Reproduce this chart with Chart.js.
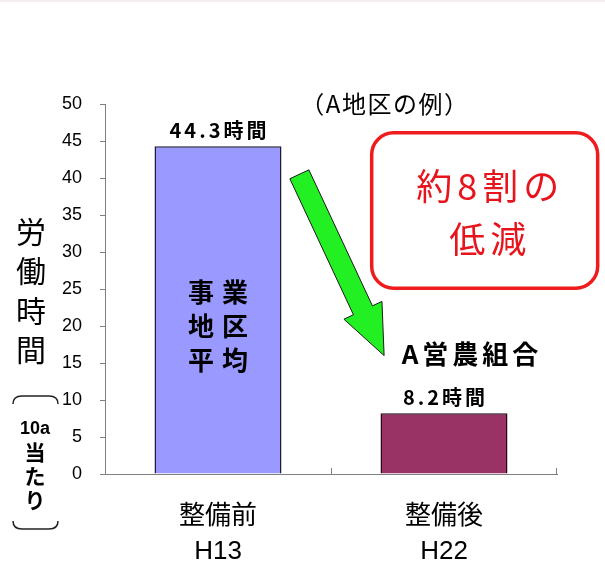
<!DOCTYPE html>
<html lang="ja">
<head>
<meta charset="utf-8">
<title>労働時間（10a当たり）</title>
<script src="https://cdn.jsdelivr.net/npm/chart.js@4.4.0/dist/chart.umd.min.js"></script>
<style>
  html, body { margin: 0; padding: 0; background: #ffffff; }
  #wrap { width: 605px; height: 565px; position: relative; }
</style>
</head>
<body>
<div id="wrap"><canvas id="chart" width="605" height="565"></canvas></div>
<script>
// ---- data ----
const categories = [['整備前', 'H13'], ['整備後', 'H22']];
const hours = [44.3, 8.2];
const barColors = ['#9999FF', '#993366'];
const barBorders = ['#1c1c3a', '#2a0a18'];
const yTicks = [0, 5, 10, 15, 20, 25, 30, 35, 40, 45, 50];
const unitSuffix = '時間';

// ---- annotation texts ----
const subtitle = '（A地区の例）';
const barInnerLines = [['事', '業'], ['地', '区'], ['平', '均']];
const groupLabel = 'A営農組合';
const calloutLines = ['約8割の', '低減'];
const axisTitleChars = ['労', '働', '時', '間'];
const axisUnitLines = ['10a', '当', 'た', 'り'];

const JP = "'Noto Sans CJK JP', sans-serif";
const LATIN_JP = "'Liberation Sans', Arial, 'Noto Sans CJK JP', sans-serif";

// centred text that keeps letter spacing symmetric
function spacedText(ctx, text, x, y, spacing) {
  ctx.letterSpacing = spacing + 'px';
  ctx.fillText(text, x + spacing / 2, y);
  ctx.letterSpacing = '0px';
}

const annotations = {
  id: 'annotations',
  afterDraw(chart) {
    const ctx = chart.ctx;
    const xs = chart.scales.x, ys = chart.scales.y;
    const area = chart.chartArea;
    const bars = chart.getDatasetMeta(0).data;
    ctx.save();

    // faint rule along the top edge
    ctx.fillStyle = '#f4eef0';
    ctx.fillRect(0, 0, chart.width, 2);

    // category boundary ticks on the x axis (pointing up)
    ctx.strokeStyle = '#808080';
    ctx.lineWidth = 1;
    const mid = (xs.getPixelForValue(0) + xs.getPixelForValue(1)) / 2;
    [area.left + 0.5, Math.round(mid) + 0.5, area.right - 0.5].forEach(px => {
      ctx.beginPath();
      ctx.moveTo(px, area.bottom);
      ctx.lineTo(px, area.bottom - 6);
      ctx.stroke();
    });

    ctx.textAlign = 'center';
    ctx.textBaseline = 'middle';
    ctx.fillStyle = '#000';

    // value labels above bars
    ctx.font = 'bold 20px ' + JP;
    bars.forEach((bar, i) => {
      spacedText(ctx, hours[i] + unitSuffix, bar.x, bar.y - 16, 3);
    });

    // text inside the first bar
    ctx.font = 'bold 26px ' + JP;
    const b0 = bars[0];
    barInnerLines.forEach((pair, r) => {
      const cy = ys.getPixelForValue(20) + (r - 1) * 34;
      ctx.fillText(pair[0], b0.x - 17, cy);
      ctx.fillText(pair[1], b0.x + 17, cy);
    });

    // group label above the second bar
    ctx.font = 'bold 26px ' + JP;
    spacedText(ctx, groupLabel, bars[1].x + 26, ys.getPixelForValue(16.2), 4);

    // subtitle
    ctx.font = '24px ' + JP;
    spacedText(ctx, subtitle, xs.getPixelForValue(0.735), ys.getPixelForValue(50), 1.5);

    // y axis title (vertical)
    ctx.font = '30px ' + JP;
    axisTitleChars.forEach((ch, i) => {
      ctx.fillText(ch, 31, ys.getPixelForValue(32.8) + i * 39.5);
    });

    // unit note with vertical brackets
    const ux = 35;
    ctx.strokeStyle = '#222';
    ctx.lineWidth = 1.5;
    const topY = ys.getPixelForValue(10) - 4;
    ctx.beginPath();
    ctx.moveTo(13, topY + 8);
    ctx.quadraticCurveTo(13, topY, 22, topY);
    ctx.lineTo(49, topY);
    ctx.quadraticCurveTo(58, topY, 58, topY + 8);
    ctx.stroke();
    const botY = topY + 133;
    ctx.beginPath();
    ctx.moveTo(13, botY - 8);
    ctx.quadraticCurveTo(13, botY, 22, botY);
    ctx.lineTo(49, botY);
    ctx.quadraticCurveTo(58, botY, 58, botY - 8);
    ctx.stroke();
    ctx.font = 'bold 18px ' + LATIN_JP;
    ctx.fillText(axisUnitLines[0], ux, topY + 33);
    ctx.font = 'bold 21px ' + JP;
    [1, 2, 3].forEach((k, i) => {
      ctx.fillText(axisUnitLines[k], ux, topY + 56 + i * 24);
    });

    // green arrow from the first bar toward the second
    const sx = xs.getPixelForValue(0.36), sy = ys.getPixelForValue(40.5);
    const tx = xs.getPixelForValue(0.735), ty = ys.getPixelForValue(16.0);
    const len = Math.hypot(tx - sx, ty - sy);
    const ux1 = (tx - sx) / len, uy1 = (ty - sy) / len;
    const nx = -uy1, ny = ux1;
    const sh = 10.5, hh = 21, hl = 50;
    const bx = tx - ux1 * hl, by = ty - uy1 * hl;
    ctx.beginPath();
    ctx.moveTo(sx + nx * sh, sy + ny * sh);
    ctx.lineTo(bx + nx * sh, by + ny * sh);
    ctx.lineTo(bx + nx * hh, by + ny * hh);
    ctx.lineTo(tx, ty);
    ctx.lineTo(bx - nx * hh, by - ny * hh);
    ctx.lineTo(bx - nx * sh, by - ny * sh);
    ctx.lineTo(sx - nx * sh, sy - ny * sh);
    ctx.closePath();
    ctx.fillStyle = '#22f022';
    ctx.fill();
    ctx.strokeStyle = '#1a1a1a';
    ctx.lineWidth = 1;
    ctx.stroke();

    // red callout box
    const rl = xs.getPixelForValue(0.68), rr = xs.getPixelForValue(1.68);
    const rt = ys.getPixelForValue(46.1), rb = ys.getPixelForValue(25.1);
    ctx.beginPath();
    ctx.roundRect(rl, rt, rr - rl, rb - rt, 22);
    ctx.fillStyle = '#ffffff';
    ctx.fill();
    ctx.strokeStyle = '#ee1c1c';
    ctx.lineWidth = 3.5;
    ctx.stroke();
    ctx.fillStyle = '#e8141c';
    ctx.font = '36px ' + JP;
    const cx = (rl + rr) / 2 + 3;
    spacedText(ctx, calloutLines[0], cx, rt + 53, 5);
    spacedText(ctx, calloutLines[1], cx, rt + 106, 5);

    ctx.restore();
  }
};

new Chart(document.getElementById('chart'), {
  type: 'bar',
  data: {
    labels: categories,
    datasets: [{
      data: hours,
      backgroundColor: barColors,
      borderColor: barBorders,
      borderWidth: 1.5,
      barPercentage: 0.562,
      categoryPercentage: 1.0
    }]
  },
  options: {
    responsive: false,
    animation: false,
    devicePixelRatio: 1,
    layout: { padding: { top: 104, right: 48, bottom: 0, left: 0 } },
    plugins: { legend: { display: false }, tooltip: { enabled: false } },
    scales: {
      x: {
        grid: { display: true, drawOnChartArea: false, drawTicks: false, color: 'rgba(0,0,0,0)' },
        border: { display: true, color: '#808080', width: 1 },
        ticks: {
          color: '#000',
          padding: 25.5,
          font: { family: LATIN_JP, size: 26, lineHeight: 1.346 }
        },
        afterFit(scale) { scale.height = 91; }
      },
      y: {
        min: 0,
        max: 50,
        afterBuildTicks(scale) { scale.ticks = yTicks.map(v => ({ value: v })); },
        grid: { drawOnChartArea: false, drawTicks: true, tickLength: 5, color: '#808080', lineWidth: 1 },
        border: { display: true, color: '#808080', width: 1 },
        ticks: {
          color: '#000',
          padding: 18,
          font: { family: "'Liberation Sans', Arial, sans-serif", size: 18 }
        },
        afterFit(scale) { scale.width = 105; }
      }
    }
  },
  plugins: [annotations]
});
</script>
</body>
</html>
